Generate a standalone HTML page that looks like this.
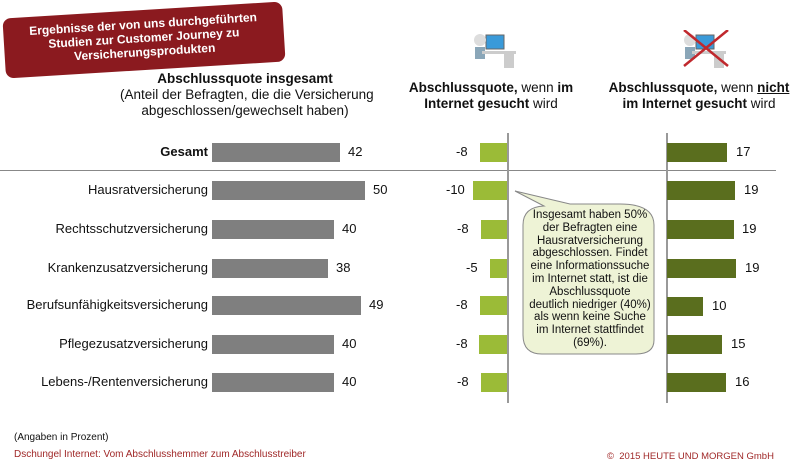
<!DOCTYPE html>
<html><head><meta charset="utf-8"><style>
body{margin:0;width:802px;height:468px;background:#fff;overflow:hidden;font-family:"Liberation Sans",Arial,sans-serif;position:relative;color:#111}
.a{position:absolute;white-space:nowrap}
.lbl{position:absolute;right:594px;font-size:13px;line-height:16px}
.v{position:absolute;font-size:13px;line-height:16px}
.gb{position:absolute;left:212px;height:19px;background:#7f7f7f}
.lg{position:absolute;height:19px;background:#9bbb37}
.dg{position:absolute;left:667px;height:19px;background:#5a6e1e}
</style></head><body>
<div class="a" style="left:4px;top:10px;width:280px;height:60px;background:#8b1a1f;border-radius:8px;transform:rotate(-3.5deg);color:#fff;font-weight:bold;font-size:12px;line-height:14px;text-align:center;padding-top:7px;box-sizing:border-box;white-space:normal">Ergebnisse der von uns durchgeführten<br>Studien zur Customer Journey zu<br>Versicherungsprodukten</div>
<div class="a" style="left:120px;top:71px;width:250px;text-align:center;font-size:13.5px;line-height:16px"><b>Abschlussquote insgesamt</b><br>(Anteil der Befragten, die die Versicherung<br>abgeschlossen/gewechselt haben)</div>
<div class="a" style="left:400px;top:80px;width:182px;text-align:center;font-size:13.5px;line-height:16px"><b>Abschlussquote,</b> wenn <b>im<br>Internet gesucht</b> wird</div>
<div class="a" style="left:608px;top:80px;width:182px;text-align:center;font-size:13.5px;line-height:16px"><b>Abschlussquote,</b> wenn <b><u>nicht</u><br>im Internet gesucht</b> wird</div>
<svg class="a" style="left:470px;top:30px" width="60" height="40"><rect x="16" y="5" width="18" height="14" fill="#3a9ad9" stroke="#666"/><circle cx="10" cy="10" r="6" fill="#ddd"/><rect x="5" y="17" width="10" height="12" fill="#8aa6b8"/><rect x="12" y="21" width="34" height="3" fill="#ccc"/><rect x="34" y="24" width="10" height="14" fill="#ccc"/></svg>
<svg class="a" style="left:680px;top:30px" width="60" height="40"><rect x="16" y="5" width="18" height="14" fill="#3a9ad9" stroke="#666"/><circle cx="10" cy="10" r="6" fill="#ddd"/><rect x="5" y="17" width="10" height="12" fill="#8aa6b8"/><rect x="12" y="21" width="34" height="3" fill="#ccc"/><rect x="34" y="24" width="10" height="14" fill="#ccc"/><path d="M4 0 L48 36 M48 0 L4 36" stroke="#c0282d" stroke-width="2.5"/></svg>
<div class="a" style="left:0;top:170px;width:776px;height:1px;background:#888"></div>
<div class="a" style="left:507px;top:133px;width:2px;height:270px;background:#999"></div>
<div class="a" style="left:666px;top:133px;width:2px;height:270px;background:#999"></div>

<div class="lbl" style="top:144px;font-weight:bold">Gesamt</div>
<div class="lbl" style="top:182px">Hausratversicherung</div>
<div class="lbl" style="top:221px">Rechtsschutzversicherung</div>
<div class="lbl" style="top:260px">Krankenzusatzversicherung</div>
<div class="lbl" style="top:297px">Berufsunfähigkeitsversicherung</div>
<div class="lbl" style="top:336px">Pflegezusatzversicherung</div>
<div class="lbl" style="top:374px">Lebens-/Rentenversicherung</div>

<div class="gb" style="top:143px;width:128px"></div><div class="v" style="left:348px;top:144px">42</div>
<div class="gb" style="top:181px;width:153px"></div><div class="v" style="left:373px;top:182px">50</div>
<div class="gb" style="top:220px;width:122px"></div><div class="v" style="left:342px;top:221px">40</div>
<div class="gb" style="top:259px;width:116px"></div><div class="v" style="left:336px;top:260px">38</div>
<div class="gb" style="top:296px;width:149px"></div><div class="v" style="left:369px;top:297px">49</div>
<div class="gb" style="top:335px;width:122px"></div><div class="v" style="left:342px;top:336px">40</div>
<div class="gb" style="top:373px;width:122px"></div><div class="v" style="left:342px;top:374px">40</div>

<div class="lg" style="left:480px;top:143px;width:27px"></div><div class="v" style="left:456px;top:144px">-8</div>
<div class="lg" style="left:473px;top:181px;width:34px"></div><div class="v" style="left:446px;top:182px">-10</div>
<div class="lg" style="left:481px;top:220px;width:26px"></div><div class="v" style="left:457px;top:221px">-8</div>
<div class="lg" style="left:490px;top:259px;width:17px"></div><div class="v" style="left:466px;top:260px">-5</div>
<div class="lg" style="left:480px;top:296px;width:27px"></div><div class="v" style="left:456px;top:297px">-8</div>
<div class="lg" style="left:479px;top:335px;width:28px"></div><div class="v" style="left:456px;top:336px">-8</div>
<div class="lg" style="left:481px;top:373px;width:26px"></div><div class="v" style="left:457px;top:374px">-8</div>

<div class="dg" style="top:143px;width:60px"></div><div class="v" style="left:736px;top:144px">17</div>
<div class="dg" style="top:181px;width:68px"></div><div class="v" style="left:744px;top:182px">19</div>
<div class="dg" style="top:220px;width:67px"></div><div class="v" style="left:742px;top:221px">19</div>
<div class="dg" style="top:259px;width:69px"></div><div class="v" style="left:745px;top:260px">19</div>
<div class="dg" style="top:297px;width:36px"></div><div class="v" style="left:712px;top:298px">10</div>
<div class="dg" style="top:335px;width:55px"></div><div class="v" style="left:731px;top:336px">15</div>
<div class="dg" style="top:373px;width:59px"></div><div class="v" style="left:735px;top:374px">16</div>

<svg class="a" style="left:510px;top:185px" width="150" height="175"><path d="M5 6 L60 19 L110 19 Q144 19 144 40 L144 155 Q144 169 126 169 L32 169 Q13 169 13 150 L13 40 Q13 22 34 21 Z" fill="#eef3d6" stroke="#888" stroke-width="1"/></svg>
<div class="a" style="left:520px;top:209px;width:140px;text-align:center;font-size:11.5px;line-height:12.8px">Insgesamt haben 50%<br>der Befragten eine<br>Hausratversicherung<br>abgeschlossen. Findet<br>eine Informationssuche<br>im Internet statt, ist die<br>Abschlussquote<br>deutlich niedriger (40%)<br>als wenn keine Suche<br>im Internet stattfindet<br>(69%).</div>

<div class="a" style="left:14px;top:432px;font-size:10px">(Angaben in Prozent)</div>
<div class="a" style="left:14px;top:449px;font-size:10px;color:#a02828">Dschungel Internet: Vom Abschlusshemmer zum Abschlusstreiber</div>
<div class="a" style="left:607px;top:451px;font-size:9.5px;color:#a02828">©&nbsp; 2015 HEUTE UND MORGEN GmbH</div>
</body></html>
